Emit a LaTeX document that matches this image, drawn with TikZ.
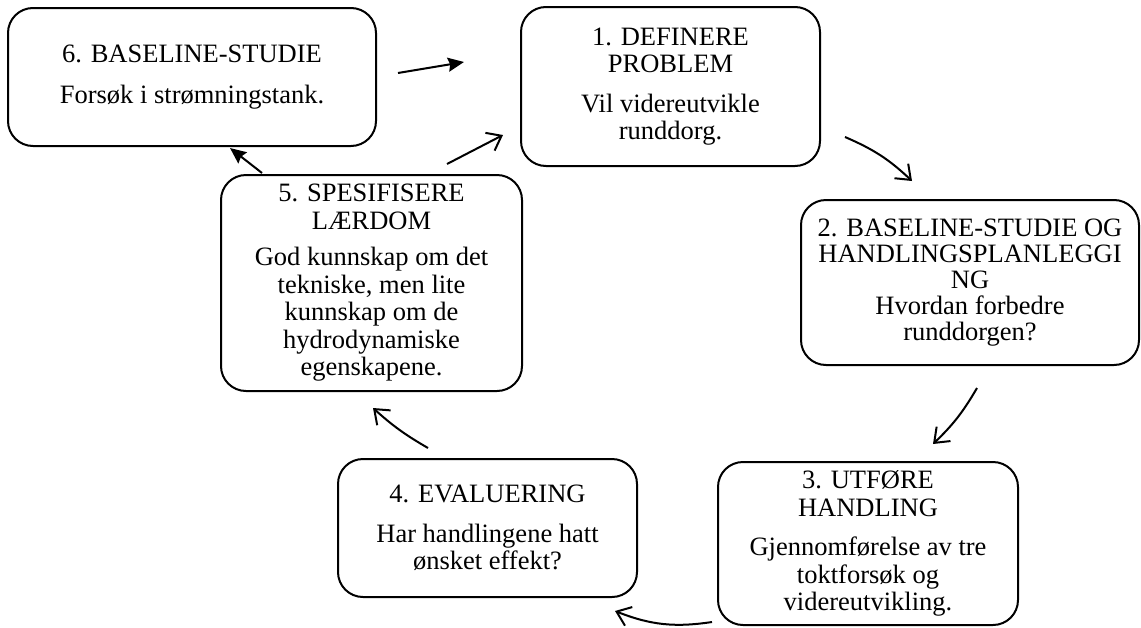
\documentclass[tikz,border=0pt]{standalone}
\usepackage{fontspec}
\setmainfont{Liberation Serif}
\usetikzlibrary{arrows.meta}
\begin{document}
\begin{tikzpicture}[x=1pt,y=-1pt,line width=2pt,
  stepbox/.style={draw,rounded corners=25pt,align=center,inner sep=0pt,
    font=\fontsize{26.5}{27.5}\selectfont},
  barb/.style={-{Straight Barb[length=13pt,width=20pt]}},
  fullhead/.style={-{Stealth[length=16pt,width=14pt,inset=2pt]}}]
  \useasboundingbox (0,0) rectangle (1141,627);
  % the six steps
  \node[stepbox,minimum width=368pt,minimum height=138pt] (b6) at (192,77)
    {6. BASELINE-STUDIE\\[14pt]Forsøk i strømningstank.};
  \node[stepbox,minimum width=299pt,minimum height=159pt] (b1) at (670.5,86.5)
    {1. DEFINERE\\PROBLEM\\[12pt]Vil videreutvikle\\runddorg.};
  \node[stepbox,minimum width=338pt,minimum height=165pt,
    font=\fontsize{26.5}{26}\selectfont] (b2) at (970,282.5)
    {2. BASELINE-STUDIE OG\\HANDLINGSPLANLEGGI\\NG\\Hvordan forbedre\\runddorgen?};
  \node[stepbox,minimum width=300pt,minimum height=163pt] (b3) at (868,543.5)
    {3. UTFØRE\\HANDLING\\[12pt]Gjennomførelse av tre\\toktforsøk og\\videreutvikling.};
  \node[stepbox,minimum width=299pt,minimum height=138pt] (b4) at (487.5,528)
    {4. EVALUERING\\[12pt]Har handlingene hatt\\ønsket effekt?};
  \node[stepbox,minimum width=301pt,minimum height=216pt] (b5) at (371.5,283)
    {5. SPESIFISERE\\LÆRDOM\\[9pt]God kunnskap om det\\tekniske, men lite\\kunnskap om de\\hydrodynamiske\\egenskapene.};
  % arrow ends
  \coordinate (s61) at (398,73);  \coordinate (t61) at (464,62);
  \coordinate (s12) at (845,137); \coordinate (t12) at (912,181);
  \coordinate (s23) at (977,388); \coordinate (t23) at (933,444);
  \coordinate (s34) at (712,622); \coordinate (t34) at (615,611);
  \coordinate (s45) at (428,448); \coordinate (t45) at (373,408);
  \coordinate (s51) at (447,164); \coordinate (t51) at (503,135);
  \coordinate (s56) at (262,173); \coordinate (t56) at (230,148);
  \draw[fullhead] (s61) -- (t61);
  \draw[fullhead] (s56) -- (t56);
  \foreach \p/\q/\k in {s12/t12/10,s23/t23/8,s34/t34/15,s45/t45/6,s51/t51/0}
    \draw[barb] (\p) to[bend left=\k] (\q);
\end{tikzpicture}
\end{document}
